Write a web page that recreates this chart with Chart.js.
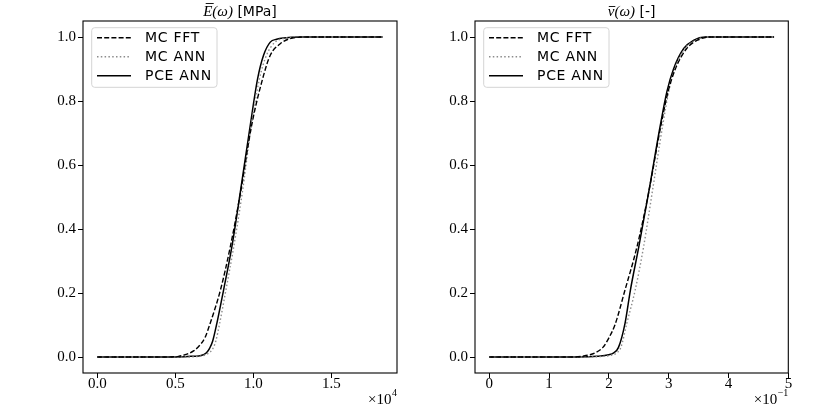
<!DOCTYPE html>
<html>
<head>
<meta charset="utf-8">
<script src="https://cdn.jsdelivr.net/npm/chart.js@4.4.1/dist/chart.umd.min.js"></script>
<style>
  html, body { margin: 0; padding: 0; background: #fff; }
  #wrap { position: relative; width: 830px; height: 415px; }
  .cell { position: absolute; top: 0; width: 415px; height: 415px; }
</style>
</head>
<body>
<div id="wrap">
  <div class="cell" style="left:0"><canvas id="leftChart" width="415" height="415"></canvas></div>
  <div class="cell" style="left:415px"><canvas id="rightChart" width="415" height="415"></canvas></div>
</div>
<script>
// shared y axis
const yTicks = [0, 0.2, 0.4, 0.6, 0.8, 1.0];
const yTickLabels = ['0.0', '0.2', '0.4', '0.6', '0.8', '1.0'];
const seriesNames = ['MC FFT', 'MC ANN', 'PCE ANN'];

// left panel: E(omega) in MPa
const eTicks = [0, 5000, 10000, 15000];
const eTickLabels = ['0.0', '0.5', '1.0', '1.5'];
const eMax = 18300;

const eFftX = [0, 4500, 5200, 5750, 6200, 6500, 6900, 7200, 7900, 8530, 9170, 9900, 10660, 11090, 11730, 12370, 13500, 18300];
const eFftY = [0, 0, 0.002, 0.009, 0.02, 0.033, 0.06, 0.1, 0.21, 0.345, 0.51, 0.725, 0.88, 0.943, 0.979, 0.995, 1.0, 1.0];

const eMcAnnX = [0, 5500, 6500, 7000, 7250, 7450, 7600, 7850, 8250, 8750, 9300, 9880, 10400, 10850, 11400, 12000, 13000, 18300];
const eMcAnnY = [0, 0, 0.002, 0.008, 0.016, 0.03, 0.05, 0.106, 0.21, 0.345, 0.515, 0.725, 0.87, 0.943, 0.984, 0.996, 1.0, 1.0];

const ePceX = [0, 5000, 6000, 6500, 6800, 7000, 7200, 7400, 7670, 8100, 8630, 9170, 9810, 10280, 10660, 11090, 11500, 11940, 13000, 18300];
const ePceY = [0, 0, 0.002, 0.003, 0.007, 0.013, 0.027, 0.05, 0.106, 0.21, 0.345, 0.515, 0.725, 0.87, 0.943, 0.984, 0.993, 0.997, 1.0, 1.0];

// right panel: nu(omega)
const nuTicks = [0, 0.1, 0.2, 0.3, 0.4, 0.5];
const nuTickLabels = ['0', '1', '2', '3', '4', '5'];
const nuMax = 0.476;

const nuFftX = [0, 0.14, 0.16, 0.177, 0.19, 0.2, 0.21, 0.227, 0.247, 0.266, 0.287, 0.299, 0.311, 0.330, 0.348, 0.37, 0.476];
const nuFftY = [0, 0, 0.004, 0.013, 0.03, 0.06, 0.1, 0.21, 0.345, 0.51, 0.725, 0.83, 0.90, 0.964, 0.99, 1.0, 1.0];

const nuMcAnnX = [0, 0.16, 0.19, 0.205, 0.213, 0.220, 0.230, 0.244, 0.258, 0.272, 0.290, 0.300, 0.310, 0.327, 0.345, 0.365, 0.476];
const nuMcAnnY = [0, 0, 0.002, 0.006, 0.013, 0.03, 0.106, 0.21, 0.345, 0.51, 0.725, 0.83, 0.90, 0.964, 0.99, 1.0, 1.0];

const nuPceX = [0, 0.15, 0.18, 0.2, 0.208, 0.216, 0.227, 0.236, 0.250, 0.266, 0.286, 0.297, 0.308, 0.325, 0.342, 0.36, 0.476];
const nuPceY = [0, 0, 0.002, 0.007, 0.013, 0.03, 0.106, 0.21, 0.345, 0.51, 0.725, 0.83, 0.90, 0.964, 0.99, 1.0, 1.0];

const lineStyles = [
    { color: '#000000', dash: [5, 2.2], width: 1.4 },
    { color: '#8c8c8c', dash: [1.5, 2.3], width: 1.4 },
    { color: '#000000', dash: [], width: 1.5 }
];

const SERIF = '"Liberation Serif", "DejaVu Serif", serif';
const SANS = '"DejaVu Sans", sans-serif';

function toPoints(xs, ys) {
    return xs.map((x, i) => ({ x: x, y: ys[i] }));
}

// titles, offset text, legend and frame
const decorPlugin = {
    id: 'decor',
    afterDraw(chart, args, opts) {
        const ctx = chart.ctx;
        const area = chart.chartArea;
        ctx.save();
        ctx.fillStyle = '#000';
        ctx.textBaseline = 'alphabetic';
        ctx.textAlign = 'left';

        // title made of mixed font parts; "bar" parts get an overline (macron)
        let total = 0;
        opts.title.forEach(p => { ctx.font = p.font; total += ctx.measureText(p.text).width; });
        let tx = (area.left + area.right) / 2 - total / 2;
        opts.title.forEach(p => {
            ctx.font = p.font;
            const w = ctx.measureText(p.text).width;
            ctx.fillText(p.text, tx, 16);
            if (p.bar) {
                ctx.beginPath();
                ctx.strokeStyle = '#000';
                ctx.lineWidth = 0.9;
                ctx.moveTo(tx + p.bar[0], p.bar[2]);
                ctx.lineTo(tx + p.bar[1], p.bar[2]);
                ctx.stroke();
            }
            tx += w;
        });

        // axis offset text, right aligned under the x axis
        ctx.font = '10px ' + SERIF;
        const expW = ctx.measureText(opts.offsetExp).width;
        ctx.font = '15px ' + SERIF;
        const baseW = ctx.measureText('\u00D710').width;
        ctx.fillText('\u00D710', area.right - expW - baseW - 0.5, 404);
        ctx.font = '10px ' + SERIF;
        ctx.fillText(opts.offsetExp, area.right - expW, 396);

        // legend
        const lx = area.left + 8.7, ly = area.top + 6.7;
        ctx.beginPath();
        ctx.roundRect(lx, ly, 125.3, 59.6, 3);
        ctx.fillStyle = 'rgba(255,255,255,0.8)';
        ctx.fill();
        ctx.strokeStyle = '#d4d4d4';
        ctx.lineWidth = 1;
        ctx.stroke();
        seriesNames.forEach((name, i) => {
            const st = lineStyles[i];
            const ry = area.top + 16.7 + i * 19;
            ctx.beginPath();
            ctx.setLineDash(st.dash);
            ctx.strokeStyle = st.color;
            ctx.lineWidth = st.width;
            ctx.moveTo(area.left + 14, ry);
            ctx.lineTo(area.left + 48, ry);
            ctx.stroke();
            ctx.setLineDash([]);
            ctx.fillStyle = '#000';
            ctx.font = '14px ' + SANS;
            ctx.letterSpacing = '0.7px';
            ctx.textBaseline = 'middle';
            ctx.fillText(name, area.left + 62, ry + 1);
            ctx.letterSpacing = '0px';
        });

        // axes frame
        ctx.strokeStyle = '#000';
        ctx.lineWidth = 1.1;
        ctx.strokeRect(area.left, area.top, area.right - area.left, area.bottom - area.top);
        ctx.restore();
    }
};

function makeChart(canvasId, xs, ys, xMax, xTicks, xLabels, yAxisWidth, rightPad, title, offsetExp) {
    const datasets = xs.map((xArr, i) => ({
        label: seriesNames[i],
        data: toPoints(xArr, ys[i]),
        showLine: true,
        borderColor: lineStyles[i].color,
        borderDash: lineStyles[i].dash,
        borderWidth: lineStyles[i].width,
        pointRadius: 0,
        fill: false,
        cubicInterpolationMode: 'monotone'
    }));

    return new Chart(document.getElementById(canvasId), {
        type: 'scatter',
        data: { datasets: datasets },
        plugins: [decorPlugin],
        options: {
            responsive: false,
            animation: false,
            devicePixelRatio: 1,
            layout: { padding: { left: 0, right: rightPad, top: 21, bottom: 0 } },
            plugins: {
                legend: { display: false },
                tooltip: { enabled: false },
                decor: { title: title, offsetExp: offsetExp }
            },
            scales: {
                x: {
                    type: 'linear',
                    min: -0.05 * xMax,
                    max: 1.05 * xMax,
                    border: { display: false },
                    grid: { drawOnChartArea: false, tickLength: 5, color: '#000', lineWidth: 1 },
                    ticks: {
                        color: '#000',
                        padding: -3,
                        maxRotation: 0,
                        autoSkip: false,
                        font: { family: SERIF, size: 15 },
                        callback: (v) => { const k = xTicks.indexOf(v); return k >= 0 ? xLabels[k] : ''; }
                    },
                    afterBuildTicks: (scale) => { scale.ticks = xTicks.map(v => ({ value: v })); },
                    afterFit: (scale) => { scale.height = 42; }
                },
                y: {
                    type: 'linear',
                    min: -0.05,
                    max: 1.05,
                    border: { display: false },
                    grid: { drawOnChartArea: false, tickLength: 5, color: '#000', lineWidth: 1 },
                    ticks: {
                        color: '#000',
                        padding: 2,
                        autoSkip: false,
                        font: { family: SERIF, size: 15 },
                        callback: (v) => { const k = yTicks.indexOf(v); return k >= 0 ? yTickLabels[k] : ''; }
                    },
                    afterBuildTicks: (scale) => { scale.ticks = yTicks.map(v => ({ value: v })); },
                    afterFit: (scale) => { scale.width = yAxisWidth; }
                }
            }
        }
    });
}

makeChart('leftChart',
    [eFftX, eMcAnnX, ePceX], [eFftY, eMcAnnY, ePceY],
    eMax, eTicks, eTickLabels, 83, 18,
    [{ text: 'E(\u03C9)', font: 'italic 15px ' + SERIF, bar: [2.5, 10.5, 3.5] }, { text: ' [MPa]', font: '14px ' + SANS }],
    '4');

makeChart('rightChart',
    [nuFftX, nuMcAnnX, nuPceX], [nuFftY, nuMcAnnY, nuPceY],
    nuMax, nuTicks, nuTickLabels, 60, 41.7,
    [{ text: '\u03BD(\u03C9)', font: 'italic 15px ' + SERIF, bar: [1, 7.5, 6.5] }, { text: ' [-]', font: '14px ' + SANS }],
    '\u22121');
</script>
</body>
</html>
